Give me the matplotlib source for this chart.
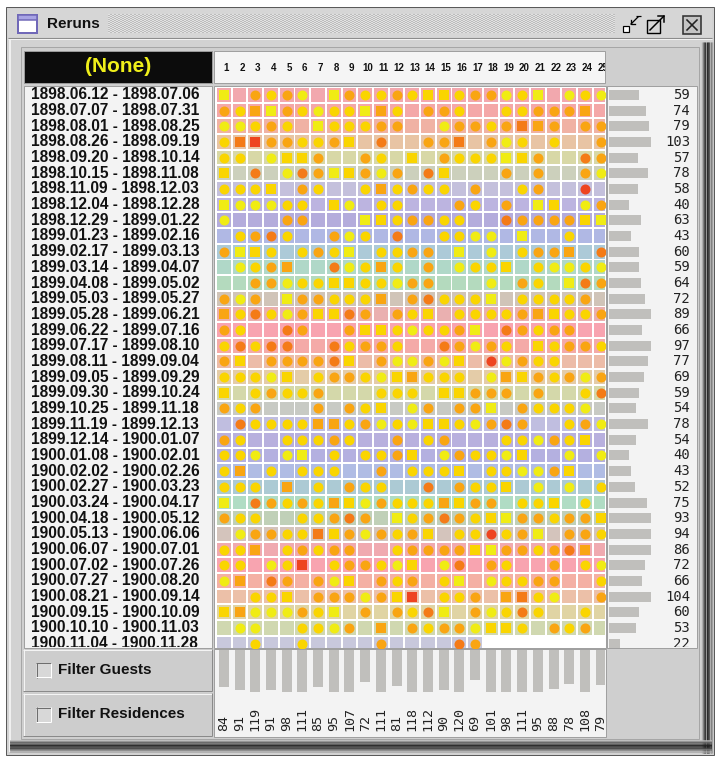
import matplotlib
matplotlib.use("Agg")
import matplotlib.pyplot as plt
import numpy as np
from matplotlib.patches import Rectangle

W, H = 720, 762

periods = [
    "1898.06.12 - 1898.07.06", "1898.07.07 - 1898.07.31", "1898.08.01 - 1898.08.25",
    "1898.08.26 - 1898.09.19", "1898.09.20 - 1898.10.14", "1898.10.15 - 1898.11.08",
    "1898.11.09 - 1898.12.03", "1898.12.04 - 1898.12.28", "1898.12.29 - 1899.01.22",
    "1899.01.23 - 1899.02.16", "1899.02.17 - 1899.03.13", "1899.03.14 - 1899.04.07",
    "1899.04.08 - 1899.05.02", "1899.05.03 - 1899.05.27", "1899.05.28 - 1899.06.21",
    "1899.06.22 - 1899.07.16", "1899.07.17 - 1899.08.10", "1899.08.11 - 1899.09.04",
    "1899.09.05 - 1899.09.29", "1899.09.30 - 1899.10.24", "1899.10.25 - 1899.11.18",
    "1899.11.19 - 1899.12.13", "1899.12.14 - 1900.01.07", "1900.01.08 - 1900.02.01",
    "1900.02.02 - 1900.02.26", "1900.02.27 - 1900.03.23", "1900.03.24 - 1900.04.17",
    "1900.04.18 - 1900.05.12", "1900.05.13 - 1900.06.06", "1900.06.07 - 1900.07.01",
    "1900.07.02 - 1900.07.26", "1900.07.27 - 1900.08.20", "1900.08.21 - 1900.09.14",
    "1900.09.15 - 1900.10.09", "1900.10.10 - 1900.11.03", "1900.11.04 - 1900.11.28",
]
row_totals = [59, 74, 79, 103, 57, 78, 58, 40, 63, 43, 60, 59, 64, 72, 89, 66, 97, 77,
              69, 59, 54, 78, 54, 40, 43, 52, 75, 93, 94, 86, 72, 66, 104, 60, 53, 22]
days = list(range(1, 26))
col_totals = [84, 91, 119, 91, 98, 111, 85, 95, 107, 72, 111, 81, 118, 112, 90, 120,
              69, 101, 98, 111, 95, 88, 78, 108, 79]

# background tint of each period row
row_colors = [
    "#f2a8ae", "#f4a8a8", "#f0b2a4", "#e8c4a4", "#d8d8a6", "#ccd0bc",
    "#c4c0dc", "#bcb4e0", "#b4acdc", "#b0b8e4", "#accad8", "#b0d8c8",
    "#b4dabe", "#d0c4b8", "#eab0b0", "#f8a4b0", "#f4aaa8", "#ecbca8",
    "#e4cca8", "#d4d8aa", "#c8cac4", "#c0bee0", "#b8b0de", "#b4b0e0",
    "#b0bce4", "#accad4", "#b0dcc4", "#c0d0b8", "#d4c4bc", "#f0aab0",
    "#f8a4b0", "#f4b0a4", "#ecc0a8", "#e0d4a4", "#d0d8b0", "#c8c8dc",
]

# one char per day: lower = circle, upper = square, '.' empty cell, '-' no cell
# y yellow, g gold, o orange, d dark orange, r red
cells = [
    "Y.ogoy.YoggogGGgooygY.ygy",
    "ogOYogyggYOg.oog..ggoooO.",
    "yygog.Ygggoo..yoogoDOo.oo",
    "gDRooggoG.d..ooD.oyg.g..o",
    "gg.yGGo..og.G.ogggYGo..do",
    "G.d.ydoYGoyo.dG...o.o..oy",
    "gggG.og..gOgogg.o..go..r.",
    "Yyyygg.Gy.gg...og.o.YG.yo",
    "y...oo...YGgoogg..dooooGY",
    ".godg..oyg.d..ggyy.Y..g..",
    "oYGg.gogY.ggoo.Y.y.gooO.d",
    ".ygoO..dygOg.o.yggG.gyygy",
    "..ooyggGGggyoo...y.og.Ydo",
    "oyo.YoogggO.odgggY.ggggo.",
    "OgdgyoGGdo.ogG.ggggoOGggo",
    "og..do..oGGgyggoY.dogoo..",
    "gdgdd..dgoog..doyog.Ggoog",
    "oG.oooodG.oyyoyG.ryogg...",
    "gggyG.googyGOggg.yOGogoyo",
    "G.goggo...ggg.GGooo.o..gd",
    "ogo...o.ogG.yo.ooY.ogggy.",
    ".dggggOOgoygyGGgyodo..goy",
    "og..gggog..o.go...ggyogG.",
    "ggy.yY.g.ggoG.yoggyG..y.y",
    "gO.g.ggg..o.gggG.ggyyoG..",
    "ggg.O.g.ogg..d.oggG.y.y.g",
    "Y.dogogOGyogggOGoo.ggG.g.",
    "ogg..ggodo.YgodogGYoogooG",
    ".yooggDGoyogoG.ggrgoY.oog",
    "ggO.gogoo..gooooGYoogodO.",
    "gg.ygR.googyG.yd.og..o.gy",
    "yO.do.oyG.ogo.gY.yggoo..g",
    "..ggG.oooyoGR.ggo.ODgy..o",
    "GOyyyogY.o.ogdY.oygdg..g.",
    ".yy..ggyo.O.ogooyGGg.ogo.",
    "..g..g....o....do--------",
]

mark_colors = {"y": "#f0ec14", "g": "#fad500", "o": "#f9a512",
               "d": "#f47b17", "r": "#ee4420"}

PX = 0.72  # one pixel in points
UI = "Liberation Sans"
MONO = "DejaVu Sans Mono"

fig = plt.figure(figsize=(W / 100, H / 100), dpi=100)
fig.patch.set_facecolor("white")
base = fig.add_axes([0, 0, 1, 1])
base.set_xlim(0, W)
base.set_ylim(H, 0)
base.axis("off")


def px_axes(x0, y0, x1, y1):
    ax = fig.add_axes([x0 / W, 1 - y1 / H, (x1 - x0) / W, (y1 - y0) / H])
    ax.axis("off")
    return ax


def box(x0, y0, x1, y1, fc, ec="none", lw=1, z=1):
    base.add_patch(Rectangle((x0, y0), x1 - x0, y1 - y0, facecolor=fc,
                             edgecolor=ec, linewidth=lw * PX, zorder=z))


def hline(x0, x1, y, c, lw=1, z=2):
    base.plot([x0, x1], [y, y], color=c, lw=lw * PX, zorder=z, solid_capstyle="butt")


def vline(x, y0, y1, c, lw=1, z=2):
    base.plot([x, x], [y0, y1], color=c, lw=lw * PX, zorder=z, solid_capstyle="butt")


def bevel(x0, y0, x1, y1, fc, light="#f4f4f4", dark="#8a8a8a"):
    box(x0, y0, x1, y1, fc)
    hline(x0, x1, y0 + 0.5, light)
    vline(x0 + 0.5, y0, y1, light)
    hline(x0, x1, y1 - 0.5, dark)
    vline(x1 - 0.5, y0, y1, dark)


# window frame
box(6, 7, 714, 755, "#d2d2d2", "#5a5a5a", 1)
box(8, 9, 712, 37, "#d6d6d6")
hline(8, 712, 37.5, "#8c8c8c")
hline(8, 712, 39, "#f2f2f2")
vline(9.5, 40, 752, "#f0f0f0", 2)
for i, c in enumerate(["#b8b8b8", "#8a8a8a", "#5c5c5c", "#3a3a3a", "#2a2a2a",
                       "#3c3c3c", "#5a5a5a", "#7a7a7a", "#a0a0a0"]):
    vline(701.5 + i * 1.3, 42, 753, c, 1.4)
for i, c in enumerate(["#b8b8b8", "#8a8a8a", "#5c5c5c", "#3a3a3a", "#1e1e1e",
                       "#2c2c2c", "#4c4c4c", "#7a7a7a", "#a8a8a8"]):
    hline(10, 712, 740.5 + i * 1.4, c, 1.5)

# title bar
checker = (np.indices((19, 254)).sum(axis=0) % 2).repeat(2, axis=1)
base.imshow(checker, cmap=matplotlib.colors.ListedColormap(["#e2e2e2", "#bdbdbd"]),
            extent=(108, 615, 33, 14), aspect="auto", interpolation="nearest", zorder=2)
base.set_xlim(0, W)
base.set_ylim(H, 0)
base.add_patch(Rectangle((18, 15), 19, 18, facecolor="white", edgecolor="#7068b8",
                         linewidth=2 * PX, zorder=3))
base.add_patch(Rectangle((18, 15), 19, 5, facecolor="#a8a4e4", edgecolor="#7068b8",
                         linewidth=1.5 * PX, zorder=3))
base.text(47, 24, "Reruns", fontsize=11, fontweight="bold", family=UI,
          color="#111111", va="center", ha="left", zorder=4)
# minimise / maximise / close icons
base.add_patch(Rectangle((623, 26), 6, 6, facecolor="white", edgecolor="black",
                         linewidth=1.2 * PX, zorder=3))
base.plot([631, 638], [24, 17], color="black", lw=1.3 * PX, zorder=3)
base.plot([631, 631, 635], [20, 24, 24], color="black", lw=1.3 * PX, zorder=3)
hline(636, 641, 16, "black", 1.2, 3)
base.add_patch(Rectangle((647, 20), 13, 13, facecolor="#d6d6d6", edgecolor="black",
                         linewidth=1.4 * PX, zorder=3))
base.plot([650, 664], [30, 16], color="black", lw=1.5 * PX, zorder=3)
base.plot([658, 664, 664], [16, 16, 22], color="black", lw=1.5 * PX, zorder=3)
base.add_patch(Rectangle((683, 16), 18, 18, facecolor="#c4c4c4", edgecolor="#333333",
                         linewidth=1.6 * PX, zorder=3))
base.plot([687, 697], [20, 30], color="#222222", lw=1.6 * PX, zorder=4)
base.plot([687, 697], [30, 20], color="#222222", lw=1.6 * PX, zorder=4)

# content area
box(21, 47, 699, 739, "#cfcfcf", "#a6a6a6", 1)
box(24, 51, 212, 83, "#0c0c0c", "#9a9a9a", 1)
base.text(118, 67, "(None)", fontsize=15, fontweight="bold", family=UI,
          color="#efef1a", ha="center", va="center", zorder=4)
box(214, 51, 605, 83, "#f5f5f5", "#a0a0a0", 1)
box(24, 86, 212, 648, "#f3f3f3", "#a0a0a0", 1)
box(214, 86, 606, 648, "white", "#a0a0a0", 1)
box(607, 86, 697, 648, "#f3f3f3", "#a0a0a0", 1)
box(214, 649, 606, 737, "#f3f3f3", "#a0a0a0", 1)

for y0, y1, label in [(649, 691, "Filter Guests"), (693, 736, "Filter Residences")]:
    bevel(23, y0, 212, y1, "#cdcdcd")
    cy = (y0 + y1) / 2
    box(36, cy - 7.5, 51, cy + 7.5, "#d8d8d8", z=3)
    hline(36, 51, cy - 7, "#6e6e6e", 1, 4)
    vline(36.5, cy - 7.5, cy + 7.5, "#6e6e6e", 1, 4)
    hline(36, 51, cy + 7, "#ffffff", 1, 4)
    vline(50.5, cy - 7.5, cy + 7.5, "#ffffff", 1, 4)
    base.text(58, cy, label, fontsize=11, fontweight="bold", family=UI,
              color="#111111", ha="left", va="center", zorder=4)

# shared scales
col_pitch, row_pitch = 15.7, 15.68
xlim = (0.5, 0.5 + 389 / col_pitch)
ylim = (0.5 + 561 / row_pitch, 0.5)
rows = np.arange(1, len(periods) + 1)

# heat grid
grid = px_axes(216, 87, 605, 648)
grid.set_xlim(*xlim)
grid.set_ylim(*ylim)
groups = {}
for r, (line, bg) in zip(rows, zip(cells, row_colors)):
    have = [d for d, ch in zip(days, line) if ch != "-"]
    grid.bar(have, 0.88, bottom=r - 0.44, width=0.88, color=bg, linewidth=0)
    for d, ch in zip(days, line):
        if ch in ".-":
            continue
        key = (ch.lower(), "s" if ch.isupper() else "o")
        groups.setdefault(key, ([], []))
        groups[key][0].append(d)
        groups[key][1].append(r)
for (code, marker), (xs, ys) in groups.items():
    grid.scatter(xs, ys, s=52, marker=marker, color=mark_colors[code],
                 linewidths=0, zorder=3)

# day numbers across the top
head = px_axes(216, 52, 605, 82)
head.set_xlim(*xlim)
head.set_ylim(82, 52)
for d in days:
    head.text(d + 0.15, 68, str(d), fontsize=7, fontweight="bold", family=UI,
              color="#111111", ha="center", va="center", clip_on=True)

# period labels
lab = px_axes(25, 87, 211, 647)
lab.set_xlim(25, 211)
lab.set_ylim(0.5 + 560 / row_pitch, 0.5)
for r, p in zip(rows, periods):
    lab.text(31, r, p, fontsize=11.2, fontweight="bold", family=UI,
             color="#111111", ha="left", va="center", clip_on=True)

# row totals on the right
rbar = px_axes(609, 87, 651, 648)
rbar.set_xlim(0, 84)
rbar.set_ylim(*ylim)
rbar.barh(rows, row_totals, height=0.64, color="#c0bfbc", linewidth=0)
rtxt = px_axes(607, 87, 696, 647)
rtxt.set_xlim(607, 696)
rtxt.set_ylim(0.5 + 560 / row_pitch, 0.5)
for r, v in zip(rows, row_totals):
    rtxt.text(690, r, str(v), fontsize=10, family=MONO, color="#222222",
              ha="right", va="center", clip_on=True)

# day totals along the bottom
bbar = px_axes(216, 650, 605, 692)
bbar.set_xlim(*xlim)
bbar.set_ylim(95.5, 0)
bbar.bar(days, col_totals, width=0.64, color="#c0bfbc", linewidth=0)
btxt = px_axes(216, 650, 605, 736)
btxt.set_xlim(*xlim)
btxt.set_ylim(736, 650)
for d, v in zip(days, col_totals):
    btxt.text(d, 731, str(v), fontsize=9.6, family=MONO, color="#222222",
              rotation=90, ha="center", va="bottom", clip_on=True)

fig.savefig("out.png", dpi=100, facecolor="white")
